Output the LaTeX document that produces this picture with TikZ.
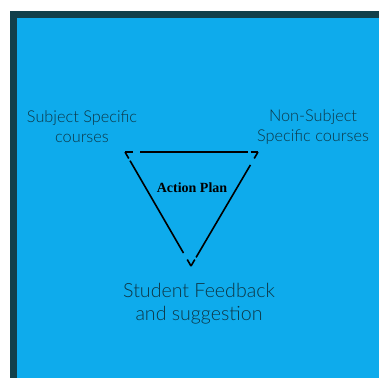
\documentclass[tikz,border=0pt]{standalone}
\usepackage{fontspec}
\usepackage{xcolor}
\usetikzlibrary{calc}
\newfontfamily\latolight{Lato Light}
\newfontfamily\heavyserif{Liberation Serif}
\definecolor{frame}{HTML}{12404B}
\definecolor{panel}{HTML}{0EABEC}
\definecolor{ink}{HTML}{0D3645}
\tikzset{
  edge/.style={draw=black, line width=1.6pt, line cap=butt},
  lab/.style={text=ink, align=center, font=\latolight\fontsize{16.3}{20}\selectfont},
  labbig/.style={text=ink, align=center, font=\latolight\fontsize{19.6}{23}\selectfont},
  core/.style={text=black, font=\heavyserif\bfseries\fontsize{14}{16}\selectfont},
}
\begin{document}
\begin{tikzpicture}[x=1pt,y=-1pt]
  \useasboundingbox (0,0) rectangle (379,378);
  \fill[white] (0,0) rectangle (379,378);
  \fill[frame] (10,11) rectangle (379,378);
  \fill[panel] (17,18) rectangle (379,378);
  % triangle corners
  \coordinate (A) at (125,152);
  \coordinate (B) at (258,152);
  \coordinate (C) at (191,266);
  \foreach \p/\q in {A/B,B/C,C/A}{
    \draw[edge] (\p) -- ($(\p)!7.5pt!(\q)$);
    \draw[edge] ($(\p)!15pt!(\q)$) -- ($(\q)!10pt!(\p)$);
    \draw[edge] ($(\q)!7.5pt!(\p)$) -- (\q);
  }
  \node[core] (plan) at (192,188) {Action Plan};
  \node[lab] (subj) at (82,127) {Subject Specific\\courses};
  \node[lab] (nonsubj) at (313,127) {Non-Subject\\Specific courses};
  \node[labbig] (feedback) at (199,304) {Student Feedback\\and suggestion};
\end{tikzpicture}
\end{document}
